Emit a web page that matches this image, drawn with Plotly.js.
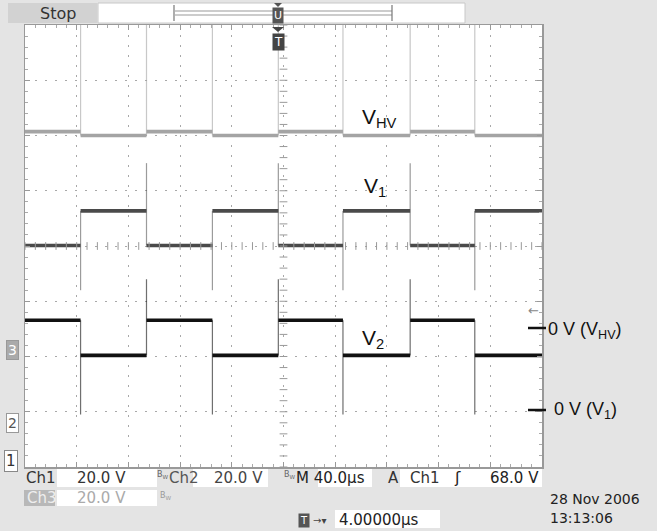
<!DOCTYPE html>
<html><head><meta charset="utf-8">
<script src="https://cdn.plot.ly/plotly-3.0.1.min.js"></script>
<style>html,body{margin:0;padding:0;background:#e4e4e4;}#plot{width:657px;height:531px;}</style>
</head><body><div id="plot"></div>
<script>
// Time axis: 40 us/div, 10 divisions. Vertical: 20 V/div, 8 divisions (screen volts from centre)
const edgeTimes = [43, 94, 145, 196, 246, 298, 348];           // us, switching instants
const vhvLevels = [41.4, 40.0, 41.4, 40.0, 41.4, 40.0, 41.4, 40.0]; // screen V per segment
const v1Levels  = [0.2, 12.7, 0.2, 12.7, 0.2, 12.7, 0.2, 12.7];
const v2Levels  = [-26.9, -39.6, -26.9, -39.6, -26.9, -39.6, -26.9, -39.6];
const vhvSpikes = [80, 80, 80, 80, 80, 80, 80];                 // ringing spike extremes at each edge
const v1Spikes  = [-16, 30, -16, 30, -16, 30, -16];
const v2Spikes  = [-61, -12, -61, -12, -61, -12, -61];
const tStart = 0, tEnd = 400;

function levelTrace(levels){
  const bounds=[tStart].concat(edgeTimes,[tEnd]);
  const x=[], y=[];
  levels.forEach((v,i)=>{ x.push(bounds[i],bounds[i+1],null); y.push(v,v,null); });
  return {x,y};
}
function edgeTrace(levels, spikes){
  const x=[], y=[];
  edgeTimes.forEach((t,i)=>{ x.push(t,t,t,null); y.push(spikes[i],levels[i],levels[i+1],null); });
  return {x,y};
}
const traces=[];
[[vhvLevels,vhvSpikes,'#a4a4a4',0.6],[v1Levels,v1Spikes,'#4a4a4a',0.55],[v2Levels,v2Spikes,'#111111',0.6]].forEach(([lv,sp,c,op])=>{
  const e=edgeTrace(lv,sp);
  traces.push({x:e.x,y:e.y,mode:'lines',line:{color:c,width:1.2},opacity:op,hoverinfo:'skip',showlegend:false,connectgaps:false});
  const m=levelTrace(lv);
  traces.push({x:m.x,y:m.y,mode:'lines',line:{color:c,width:3.6},hoverinfo:'skip',showlegend:false,connectgaps:false});
});

// pixel helpers for screen decorations (plot area: x 25..542, y 25..467)
const L=25,R=542,T=25,B=467;
const PX=px=>(px-L)/(R-L), PY=py=>(B-py)/(B-T);
const shapes=[], ann=[];
function rect(x0,y0,x1,y1,fill,line){shapes.push({type:'rect',xref:'paper',yref:'paper',x0:PX(x0),x1:PX(x1),y0:PY(y1),y1:PY(y0),fillcolor:fill,line:{color:line||fill,width:line?1:0},layer:'below'});}
function seg(x0,y0,x1,y1,c,w){shapes.push({type:'line',xref:'paper',yref:'paper',x0:PX(x0),x1:PX(x1),y0:PY(y0),y1:PY(y1),line:{color:c,width:w}});}
function txt(px,py,t,size,color,anchor,extra){ann.push(Object.assign({xref:'paper',yref:'paper',x:PX(px),y:PY(py),text:t,showarrow:false,xanchor:anchor||'left',yanchor:'middle',font:{family:'DejaVu Sans, sans-serif',size:size,color:color||'#222'}},extra||{}));}

// centre crosshair ticks
for(let t=0;t<=400;t+=8){ shapes.push({type:'line',xref:'x',yref:'y',x0:t,x1:t,y0:-1.4,y1:1.4,line:{color:'#999',width:1}}); }
for(let v=-80;v<=80;v+=4){ shapes.push({type:'line',xref:'x',yref:'y',x0:197,x1:203,y0:v,y1:v,line:{color:'#999',width:1}}); }

// top bar
rect(8,3,97,23,'#d2d2d2');
rect(98,3,465,23,'#ffffff','#c8c8c8');
txt(58,13,'Stop',16,'#333','center');
seg(175,11,392,11,'#999',1); seg(175,15,392,15,'#999',1);
seg(174,5,174,21,'#777',1.2); seg(392,5,392,21,'#777',1.2);
txt(278,15,'U',11,'#fff','center',{bgcolor:'#555',borderpad:1});
txt(278,42,'T',12,'#fff','center',{bgcolor:'#444',borderpad:1});
shapes.push({type:'path',xref:'paper',yref:'paper',path:`M ${PX(272)} ${PY(27)} L ${PX(284)} ${PY(27)} L ${PX(278)} ${PY(32)} Z`,fillcolor:'#444',line:{width:0}});
shapes.push({type:'path',xref:'paper',yref:'paper',path:`M ${PX(274)} ${PY(3)} L ${PX(282)} ${PY(3)} L ${PX(278)} ${PY(7)} Z`,fillcolor:'#555',line:{width:0}});

// left channel markers
txt(12,350,'3',14,'#fff','center',{bgcolor:'#aaa',bordercolor:'#999',borderwidth:1,borderpad:1});
txt(12,423,'2',14,'#555','center',{bgcolor:'#fff',bordercolor:'#999',borderwidth:1,borderpad:1});
txt(11,461,'1',15,'#333','center',{bgcolor:'#fff',bordercolor:'#888',borderwidth:1,borderpad:1});

// trace labels
const lf='Liberation Sans, Arial, sans-serif';
ann.push({xref:'paper',yref:'paper',x:PX(360),y:PY(118),text:'V<sub>HV</sub>',showarrow:false,xanchor:'left',yanchor:'middle',font:{family:lf,size:21,color:'#111'}});
ann.push({xref:'paper',yref:'paper',x:PX(362),y:PY(187),text:'V<sub>1</sub>',showarrow:false,xanchor:'left',yanchor:'middle',font:{family:lf,size:21,color:'#111'}});
ann.push({xref:'paper',yref:'paper',x:PX(360),y:PY(339),text:'V<sub>2</sub>',showarrow:false,xanchor:'left',yanchor:'middle',font:{family:lf,size:21,color:'#111'}});

// right-side zero markers
seg(528,328,546,328,'#111',2.5); seg(528,410,546,410,'#111',2.5);
ann.push({xref:'paper',yref:'paper',x:PX(546),y:PY(330),text:'0 V (V<sub>HV</sub>)',showarrow:false,xanchor:'left',yanchor:'middle',font:{family:lf,size:18,color:'#111'}});
ann.push({xref:'paper',yref:'paper',x:PX(552),y:PY(410),text:'0 V (V<sub>1</sub>)',showarrow:false,xanchor:'left',yanchor:'middle',font:{family:lf,size:18,color:'#111'}});
txt(533,311,'←',13,'#888','center');

// bottom readouts
rect(57,469,157,487,'#ffffff'); rect(193,469,268,487,'#ffffff'); rect(318,469,372,487,'#ffffff'); rect(400,469,542,487,'#ffffff');
rect(24,490,55,506,'#b8b8b8'); rect(57,490,157,506,'#ffffff');
rect(335,510,440,528,'#ffffff');
txt(24,478,'Ch1',15,'#333'); txt(75,478,'20.0 V',15,'#333');
txt(155,475,'B<sub>W</sub>',8,'#666'); txt(167,478,'Ch2',15,'#555'); txt(212,478,'20.0 V',15,'#444');
txt(282,475,'B<sub>W</sub>',8,'#666'); txt(294,478,'M 40.0µs',15,'#222');
txt(386,478,'A',15,'#333'); txt(408,478,'Ch1',15,'#333'); txt(452,478,'ʃ',16,'#222'); txt(488,478,'68.0 V',15,'#222');
txt(25,498,'Ch3',15,'#eee'); txt(75,498,'20.0 V',15,'#aaa'); txt(158,496,'B<sub>W</sub>',8,'#999');
txt(304,520,'T',10,'#fff','center',{bgcolor:'#555',borderpad:1});
txt(311,520,'→▾',10,'#444');
txt(337,520,'4.00000µs',15,'#222');
txt(548,499,'28 Nov 2006',14,'#222'); txt(548,518,'13:13:06',14,'#222');

const ax={showticklabels:false,showgrid:true,gridcolor:'#a8a8a8',griddash:'2px,8px',gridwidth:1,zeroline:false,
  ticks:'inside',ticklen:5,tickcolor:'#999',showline:true,linecolor:'#999',linewidth:1.5,mirror:'ticks',fixedrange:true};
const layout={width:657,height:531,margin:{l:L,r:657-R,t:T,b:531-B,pad:0},
  paper_bgcolor:'#e4e4e4',plot_bgcolor:'#ffffff',showlegend:false,
  xaxis:Object.assign({},ax,{range:[tStart,tEnd],dtick:40,tick0:0,minor:{dtick:8,ticks:'inside',ticklen:3,tickcolor:'#aaa',showgrid:false}}),
  yaxis:Object.assign({},ax,{range:[-80,80],dtick:20,tick0:0,minor:{dtick:4,ticks:'inside',ticklen:3,tickcolor:'#aaa',showgrid:false}}),
  shapes:shapes,annotations:ann};
Plotly.newPlot('plot',traces,layout,{staticPlot:true,displayModeBar:false});
</script></body></html>
